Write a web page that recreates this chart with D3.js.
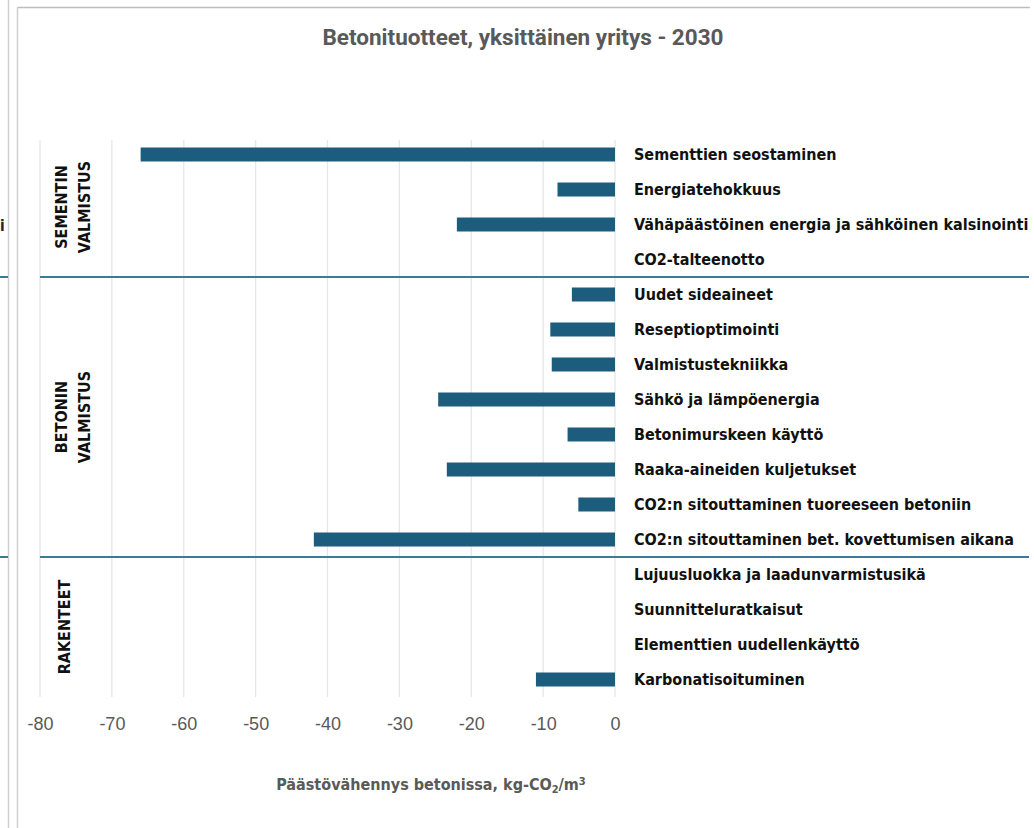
<!DOCTYPE html>
<html>
<head>
<meta charset="utf-8">
<script src="https://cdn.jsdelivr.net/npm/d3@7"></script>
<style>
  html, body { margin: 0; padding: 0; background: #fff; }
  svg { display: block; }
</style>
</head>
<body>
<svg id="chart" width="1034" height="828"></svg>
<script>
// Emission reduction measures for a single concrete products company, 2030
const categories = [
  "Sementtien seostaminen",
  "Energiatehokkuus",
  "Vähäpäästöinen energia ja sähköinen kalsinointi",
  "CO2-talteenotto",
  "Uudet sideaineet",
  "Reseptioptimointi",
  "Valmistustekniikka",
  "Sähkö ja lämpöenergia",
  "Betonimurskeen käyttö",
  "Raaka-aineiden kuljetukset",
  "CO2:n sitouttaminen tuoreeseen betoniin",
  "CO2:n sitouttaminen bet. kovettumisen aikana",
  "Lujuusluokka ja laadunvarmistusikä",
  "Suunnitteluratkaisut",
  "Elementtien uudellenkäyttö",
  "Karbonatisoituminen"
];
const values = [-66, -8, -22, 0, -6, -9, -8.8, -24.6, -6.6, -23.4, -5.1, -41.9, 0, 0, 0, -11];

const groupNames = [["SEMENTIN", "VALMISTUS"], ["BETONIN", "VALMISTUS"], ["RAKENTEET"]];
const groupFirst = ["Sementtien seostaminen", "Uudet sideaineet", "Lujuusluokka ja laadunvarmistusikä"];
const groupLast = ["CO2-talteenotto", "CO2:n sitouttaminen bet. kovettumisen aikana", "Karbonatisoituminen"];

const xTicks = [-80, -70, -60, -50, -40, -30, -20, -10, 0];
const xDomain = [-80, 0];

const titleText = "Betonituotteet, yksittäinen yritys - 2030";

const svg = d3.select("#chart");
const W = 1034, H = 828;

const plot = { left: 40, right: 615, top: 137, bottom: 697 };

const x = d3.scaleLinear().domain(xDomain).range([plot.left, plot.right]);
const y = d3.scaleBand().domain(categories).range([plot.top, plot.bottom]).paddingInner(0.6).paddingOuter(0.3);

const condensed = "'DejaVu Sans Condensed', 'DejaVu Sans', sans-serif";

// Edge of the neighbouring panel and the card frame
const frame = svg.append("g");
frame.append("line").attr("x1", 8.5).attr("x2", 8.5).attr("y1", 0).attr("y2", H)
  .attr("stroke", "#cfcfcf").attr("stroke-width", 1.5);
frame.append("line").attr("x1", 17.5).attr("x2", 17.5).attr("y1", 7.5).attr("y2", H)
  .attr("stroke", "#cfcfcf").attr("stroke-width", 1.5);
frame.append("line").attr("x1", 17.5).attr("x2", 1030).attr("y1", 7.5).attr("y2", 7.5)
  .attr("stroke", "#bdbdbd").attr("stroke-width", 1.5);
frame.append("text").attr("x", 0).attr("y", 231).text("i")
  .attr("font-family", condensed).attr("font-weight", "bold").attr("font-size", 15).attr("fill", "#222");

// Title
svg.append("text")
  .attr("x", 523).attr("y", 45)
  .attr("text-anchor", "middle")
  .attr("font-family", "Roboto, sans-serif")
  .attr("font-weight", "bold")
  .attr("font-size", 22.5)
  .attr("fill", "#595959")
  .text(titleText);

// Vertical gridlines
svg.append("g")
  .selectAll("line")
  .data(xTicks)
  .join("line")
  .attr("x1", d => x(d)).attr("x2", d => x(d))
  .attr("y1", plot.top + 3).attr("y2", plot.bottom)
  .attr("stroke", "#e6e6e6").attr("stroke-width", 1.3);

// X axis labels (no domain line, no tick marks), plain hyphen minus
const xAxis = svg.append("g")
  .attr("transform", `translate(0, ${plot.bottom + 20})`)
  .call(d3.axisBottom(x).tickValues(xTicks).tickSize(0).tickPadding(0).tickFormat(d => String(d)));
xAxis.select(".domain").remove();
xAxis.selectAll("text")
  .attr("font-family", "'Liberation Sans', Arial, sans-serif")
  .attr("font-size", 18)
  .attr("fill", "#595959")
  .attr("dy", "0.71em");

// Bars
svg.append("g")
  .selectAll("rect")
  .data(categories.map((c, i) => ({ c, v: values[i] })))
  .join("rect")
  .attr("x", d => x(Math.min(0, d.v)))
  .attr("y", d => y(d.c))
  .attr("width", d => Math.abs(x(d.v) - x(0)))
  .attr("height", y.bandwidth())
  .attr("fill", "#1c5d7d");

// Category labels to the right of the zero line
svg.append("g")
  .selectAll("text")
  .data(categories)
  .join("text")
  .attr("x", x(0) + 19)
  .attr("y", d => y(d) + y.bandwidth() / 2)
  .attr("dy", "0.36em")
  .attr("font-family", condensed)
  .attr("font-weight", "bold")
  .attr("font-size", 16)
  .attr("fill", "#111")
  .text(d => d);

// Group separators
const step = y.step();
const sepYs = groupLast.slice(0, -1).map(c => y(c) - y.paddingInner() * step / 2 + step);
svg.append("g")
  .selectAll("line")
  .data(sepYs)
  .join("line")
  .attr("x1", plot.left).attr("x2", 1029)
  .attr("y1", d => d).attr("y2", d => d)
  .attr("stroke", "#3a7a9c").attr("stroke-width", 2);
// continuation on the neighbouring panel
svg.append("g")
  .selectAll("line")
  .data(sepYs)
  .join("line")
  .attr("x1", 0).attr("x2", 8)
  .attr("y1", d => d).attr("y2", d => d)
  .attr("stroke", "#3a7a9c").attr("stroke-width", 2);

// Group labels, rotated
const groupG = svg.append("g");
groupNames.forEach((lines, gi) => {
  const top = gi === 0 ? plot.top : y(groupFirst[gi]) - y.paddingInner() * step / 2;
  const bottom = gi === groupNames.length - 1 ? plot.bottom : y(groupLast[gi]) + y.bandwidth() + y.paddingInner() * step / 2;
  const cy = (top + bottom) / 2;
  const lh = 23;
  const cx0 = lines.length === 1 ? 64 : 61;
  lines.forEach((t, li) => {
    groupG.append("text")
      .attr("transform", `translate(${cx0 + li * lh}, ${cy}) rotate(-90)`)
      .attr("text-anchor", "middle")
      .attr("dy", "0.36em")
      .attr("font-family", condensed)
      .attr("font-weight", "bold")
      .attr("font-size", 16)
      .attr("fill", "#111")
      .text(t);
  });
});

// Axis title with sub- and superscript
const at = svg.append("text")
  .attr("x", 431).attr("y", 790)
  .attr("text-anchor", "middle")
  .attr("font-family", condensed)
  .attr("font-weight", "bold")
  .attr("font-size", 16)
  .attr("fill", "#595959");
at.append("tspan").text("Päästövähennys betonissa, kg-CO");
at.append("tspan").attr("font-size", 11).attr("dy", 3).text("2");
at.append("tspan").attr("dy", -3).text("/m");
at.append("tspan").attr("font-size", 11).attr("dy", -5).text("3");
</script>
</body>
</html>
